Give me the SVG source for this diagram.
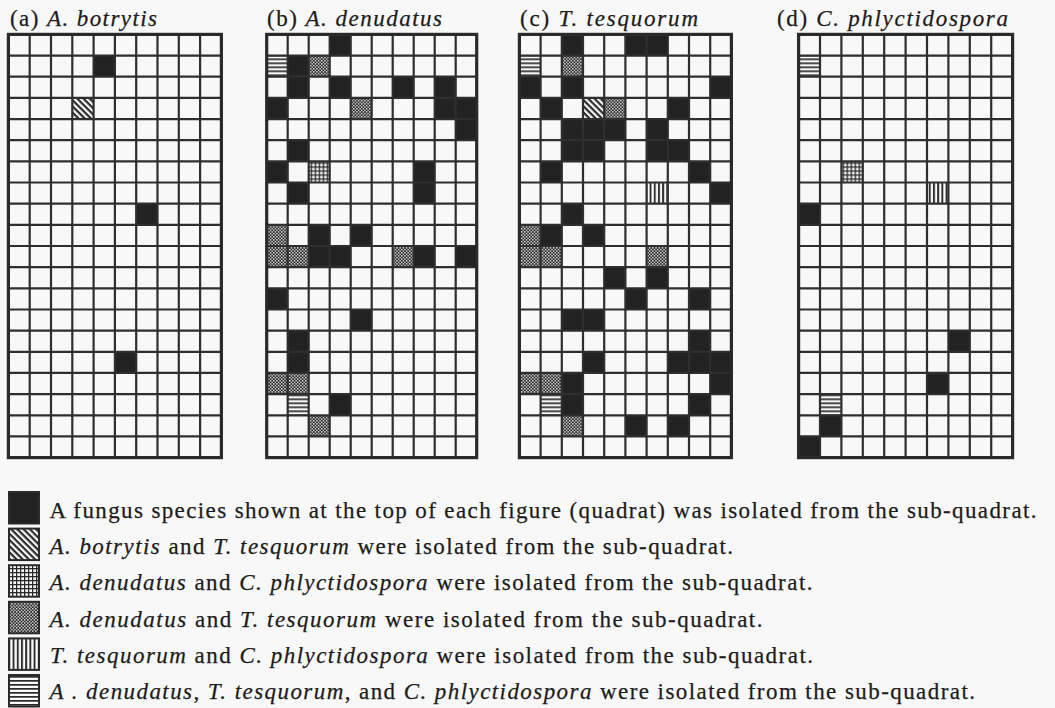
<svg xmlns="http://www.w3.org/2000/svg" width="1055" height="708" viewBox="0 0 1055 708">
<style>
.bg{fill:#f8f8f8}
.blk{fill:#222}
.gl{fill:none;stroke:#2e2e2e;stroke-width:2.2}
.bd{fill:none;stroke:#2a2a2a;stroke-width:3.2}
.lb{fill:none;stroke:#2a2a2a;stroke-width:2}
.t{font-family:"Liberation Serif","Times New Roman",serif;font-size:23px;fill:#1c1c1c;stroke:#1c1c1c;stroke-width:0.25}
.i{font-style:italic}
</style>
<defs>
<pattern id="pD" width="4.4" height="4.4" patternUnits="userSpaceOnUse" patternTransform="rotate(45)"><rect width="4.4" height="4.4" fill="#fafafa"/><rect width="4.4" height="2.2" fill="#2a2a2a"/></pattern>
<pattern id="pG" width="4" height="4" patternUnits="userSpaceOnUse"><rect width="4" height="4" fill="#fafafa"/><rect width="4" height="1.3" fill="#2a2a2a"/><rect width="1.3" height="4" fill="#2a2a2a"/></pattern>
<pattern id="pC" width="3.2" height="3.2" patternUnits="userSpaceOnUse"><rect width="3.2" height="3.2" fill="#2a2a2a"/><rect width="1.35" height="1.35" fill="#f4f4f4"/><rect x="1.6" y="1.6" width="1.35" height="1.35" fill="#f4f4f4"/></pattern>
<pattern id="pV" width="4.2" height="4.2" patternUnits="userSpaceOnUse"><rect width="4.2" height="4.2" fill="#fafafa"/><rect width="1.9" height="4.2" fill="#2a2a2a"/></pattern>
<pattern id="pH" width="4" height="4" patternUnits="userSpaceOnUse"><rect width="4" height="4" fill="#fafafa"/><rect width="4" height="1.7" fill="#2a2a2a"/></pattern>
</defs>
<rect class="bg" x="0" y="0" width="1055" height="708"/>

<g id="panel-a">
<text class="t" x="10" y="26" textLength="147" lengthAdjust="spacing">(a) <tspan class="i">A. botrytis</tspan></text>
<g transform="translate(8.4,34.4)">
<rect class="blk" x="85.2" y="21.16" width="21.3" height="21.16"/>
<rect fill="url(#pD)" x="63.9" y="63.48" width="21.3" height="21.16"/>
<rect class="blk" x="127.8" y="169.28" width="21.3" height="21.16"/>
<rect class="blk" x="106.5" y="317.4" width="21.3" height="21.16"/>
<path class="gl" d="M21.3 0V423.2M42.6 0V423.2M63.9 0V423.2M85.2 0V423.2M106.5 0V423.2M127.8 0V423.2M149.1 0V423.2M170.4 0V423.2M191.7 0V423.2M0 21.16H213M0 42.32H213M0 63.48H213M0 84.64H213M0 105.8H213M0 126.96H213M0 148.12H213M0 169.28H213M0 190.44H213M0 211.6H213M0 232.76H213M0 253.92H213M0 275.08H213M0 296.24H213M0 317.4H213M0 338.56H213M0 359.72H213M0 380.88H213M0 402.04H213"/>
<rect class="bd" x="0" y="0" width="213" height="423.2"/>
</g>
</g>

<g id="panel-b">
<text class="t" x="267" y="26" textLength="175" lengthAdjust="spacing">(b) <tspan class="i">A. denudatus</tspan></text>
<g transform="translate(266.7,34.4)">
<rect class="blk" x="63" y="0" width="21" height="21.16"/>
<rect fill="url(#pH)" x="0" y="21.16" width="21" height="21.16"/>
<rect class="blk" x="21" y="21.16" width="21" height="21.16"/>
<rect fill="url(#pC)" x="42" y="21.16" width="21" height="21.16"/>
<rect class="blk" x="21" y="42.32" width="21" height="21.16"/>
<rect class="blk" x="63" y="42.32" width="21" height="21.16"/>
<rect class="blk" x="126" y="42.32" width="21" height="21.16"/>
<rect class="blk" x="168" y="42.32" width="21" height="21.16"/>
<rect class="blk" x="0" y="63.48" width="21" height="21.16"/>
<rect fill="url(#pC)" x="84" y="63.48" width="21" height="21.16"/>
<rect class="blk" x="168" y="63.48" width="42" height="21.16"/>
<rect class="blk" x="189" y="84.64" width="21" height="21.16"/>
<rect class="blk" x="21" y="105.8" width="21" height="21.16"/>
<rect class="blk" x="0" y="126.96" width="21" height="21.16"/>
<rect fill="url(#pG)" x="42" y="126.96" width="21" height="21.16"/>
<rect class="blk" x="147" y="126.96" width="21" height="42.32"/>
<rect class="blk" x="21" y="148.12" width="21" height="21.16"/>
<rect fill="url(#pC)" x="0" y="190.44" width="21" height="42.32"/>
<rect class="blk" x="42" y="190.44" width="21" height="42.32"/>
<rect class="blk" x="84" y="190.44" width="21" height="21.16"/>
<rect fill="url(#pC)" x="21" y="211.6" width="21" height="21.16"/>
<rect class="blk" x="63" y="211.6" width="21" height="21.16"/>
<rect fill="url(#pC)" x="126" y="211.6" width="21" height="21.16"/>
<rect class="blk" x="147" y="211.6" width="21" height="21.16"/>
<rect class="blk" x="189" y="211.6" width="21" height="21.16"/>
<rect class="blk" x="0" y="253.92" width="21" height="21.16"/>
<rect class="blk" x="84" y="275.08" width="21" height="21.16"/>
<rect class="blk" x="21" y="296.24" width="21" height="42.32"/>
<rect fill="url(#pC)" x="0" y="338.56" width="42" height="21.16"/>
<rect fill="url(#pH)" x="21" y="359.72" width="21" height="21.16"/>
<rect class="blk" x="63" y="359.72" width="21" height="21.16"/>
<rect fill="url(#pC)" x="42" y="380.88" width="21" height="21.16"/>
<path class="gl" d="M21 0V423.2M42 0V423.2M63 0V423.2M84 0V423.2M105 0V423.2M126 0V423.2M147 0V423.2M168 0V423.2M189 0V423.2M0 21.16H210M0 42.32H210M0 63.48H210M0 84.64H210M0 105.8H210M0 126.96H210M0 148.12H210M0 169.28H210M0 190.44H210M0 211.6H210M0 232.76H210M0 253.92H210M0 275.08H210M0 296.24H210M0 317.4H210M0 338.56H210M0 359.72H210M0 380.88H210M0 402.04H210"/>
<rect class="bd" x="0" y="0" width="210" height="423.2"/>
</g>
</g>

<g id="panel-c">
<text class="t" x="520" y="26" textLength="178" lengthAdjust="spacing">(c) <tspan class="i">T. tesquorum</tspan></text>
<g transform="translate(519.4,34.4)">
<rect class="blk" x="42.4" y="0" width="21.2" height="21.16"/>
<rect class="blk" x="106" y="0" width="42.4" height="21.16"/>
<rect fill="url(#pH)" x="0" y="21.16" width="21.2" height="21.16"/>
<rect fill="url(#pC)" x="42.4" y="21.16" width="21.2" height="21.16"/>
<rect class="blk" x="0" y="42.32" width="21.2" height="21.16"/>
<rect class="blk" x="42.4" y="42.32" width="21.2" height="21.16"/>
<rect class="blk" x="190.8" y="42.32" width="21.2" height="21.16"/>
<rect class="blk" x="21.2" y="63.48" width="21.2" height="21.16"/>
<rect fill="url(#pD)" x="63.6" y="63.48" width="21.2" height="21.16"/>
<rect fill="url(#pC)" x="84.8" y="63.48" width="21.2" height="21.16"/>
<rect class="blk" x="148.4" y="63.48" width="21.2" height="21.16"/>
<rect class="blk" x="42.4" y="84.64" width="63.6" height="21.16"/>
<rect class="blk" x="127.2" y="84.64" width="21.2" height="21.16"/>
<rect class="blk" x="42.4" y="105.8" width="42.4" height="21.16"/>
<rect class="blk" x="127.2" y="105.8" width="42.4" height="21.16"/>
<rect class="blk" x="21.2" y="126.96" width="21.2" height="21.16"/>
<rect class="blk" x="169.6" y="126.96" width="21.2" height="21.16"/>
<rect fill="url(#pV)" x="127.2" y="148.12" width="21.2" height="21.16"/>
<rect class="blk" x="190.8" y="148.12" width="21.2" height="21.16"/>
<rect class="blk" x="42.4" y="169.28" width="21.2" height="21.16"/>
<rect fill="url(#pC)" x="0" y="190.44" width="21.2" height="42.32"/>
<rect class="blk" x="21.2" y="190.44" width="21.2" height="21.16"/>
<rect class="blk" x="63.6" y="190.44" width="21.2" height="21.16"/>
<rect fill="url(#pC)" x="21.2" y="211.6" width="21.2" height="21.16"/>
<rect fill="url(#pC)" x="127.2" y="211.6" width="21.2" height="21.16"/>
<rect class="blk" x="84.8" y="232.76" width="21.2" height="21.16"/>
<rect class="blk" x="127.2" y="232.76" width="21.2" height="21.16"/>
<rect class="blk" x="106" y="253.92" width="21.2" height="21.16"/>
<rect class="blk" x="169.6" y="253.92" width="21.2" height="21.16"/>
<rect class="blk" x="42.4" y="275.08" width="42.4" height="21.16"/>
<rect class="blk" x="169.6" y="296.24" width="21.2" height="21.16"/>
<rect class="blk" x="63.6" y="317.4" width="21.2" height="21.16"/>
<rect class="blk" x="148.4" y="317.4" width="63.6" height="21.16"/>
<rect fill="url(#pC)" x="0" y="338.56" width="42.4" height="21.16"/>
<rect class="blk" x="42.4" y="338.56" width="21.2" height="42.32"/>
<rect class="blk" x="190.8" y="338.56" width="21.2" height="21.16"/>
<rect fill="url(#pH)" x="21.2" y="359.72" width="21.2" height="21.16"/>
<rect class="blk" x="169.6" y="359.72" width="21.2" height="21.16"/>
<rect fill="url(#pC)" x="42.4" y="380.88" width="21.2" height="21.16"/>
<rect class="blk" x="106" y="380.88" width="21.2" height="21.16"/>
<rect class="blk" x="148.4" y="380.88" width="21.2" height="21.16"/>
<path class="gl" d="M21.2 0V423.2M42.4 0V423.2M63.6 0V423.2M84.8 0V423.2M106 0V423.2M127.2 0V423.2M148.4 0V423.2M169.6 0V423.2M190.8 0V423.2M0 21.16H212M0 42.32H212M0 63.48H212M0 84.64H212M0 105.8H212M0 126.96H212M0 148.12H212M0 169.28H212M0 190.44H212M0 211.6H212M0 232.76H212M0 253.92H212M0 275.08H212M0 296.24H212M0 317.4H212M0 338.56H212M0 359.72H212M0 380.88H212M0 402.04H212"/>
<rect class="bd" x="0" y="0" width="212" height="423.2"/>
</g>
</g>

<g id="panel-d">
<text class="t" x="777" y="26" textLength="231" lengthAdjust="spacing">(d) <tspan class="i">C. phlyctidospora</tspan></text>
<g transform="translate(798.6,34.4)">
<rect fill="url(#pH)" x="0" y="21.16" width="21.4" height="21.16"/>
<rect fill="url(#pG)" x="42.8" y="126.96" width="21.4" height="21.16"/>
<rect fill="url(#pV)" x="128.4" y="148.12" width="21.4" height="21.16"/>
<rect class="blk" x="0" y="169.28" width="21.4" height="21.16"/>
<rect class="blk" x="149.8" y="296.24" width="21.4" height="21.16"/>
<rect class="blk" x="128.4" y="338.56" width="21.4" height="21.16"/>
<rect fill="url(#pH)" x="21.4" y="359.72" width="21.4" height="21.16"/>
<rect class="blk" x="21.4" y="380.88" width="21.4" height="21.16"/>
<rect class="blk" x="0" y="402.04" width="21.4" height="21.16"/>
<path class="gl" d="M21.4 0V423.2M42.8 0V423.2M64.2 0V423.2M85.6 0V423.2M107 0V423.2M128.4 0V423.2M149.8 0V423.2M171.2 0V423.2M192.6 0V423.2M0 21.16H214M0 42.32H214M0 63.48H214M0 84.64H214M0 105.8H214M0 126.96H214M0 148.12H214M0 169.28H214M0 190.44H214M0 211.6H214M0 232.76H214M0 253.92H214M0 275.08H214M0 296.24H214M0 317.4H214M0 338.56H214M0 359.72H214M0 380.88H214M0 402.04H214"/>
<rect class="bd" x="0" y="0" width="214" height="423.2"/>
</g>
</g>

<g id="legend">
<rect class="blk" x="9" y="492" width="30" height="31.5"/>
<rect class="lb" x="9" y="492" width="30" height="31.5"/>
<rect fill="url(#pD)" x="9" y="528.6" width="30" height="31.5"/>
<rect class="lb" x="9" y="528.6" width="30" height="31.5"/>
<rect fill="url(#pG)" x="9" y="565.2" width="30" height="31.5"/>
<rect class="lb" x="9" y="565.2" width="30" height="31.5"/>
<rect fill="url(#pC)" x="9" y="601.8" width="30" height="31.5"/>
<rect class="lb" x="9" y="601.8" width="30" height="31.5"/>
<rect fill="url(#pV)" x="9" y="638.4" width="30" height="31.5"/>
<rect class="lb" x="9" y="638.4" width="30" height="31.5"/>
<rect fill="url(#pH)" x="9" y="675" width="30" height="31.5"/>
<rect class="lb" x="9" y="675" width="30" height="31.5"/>
<text class="t" x="49.5" y="517.5" textLength="987" lengthAdjust="spacing">A fungus species shown at the top of each figure (quadrat) was isolated from the sub-quadrat.</text>
<text class="t" x="49.5" y="553.8" textLength="683.5" lengthAdjust="spacing"><tspan class="i">A. botrytis</tspan> and <tspan class="i">T. tesquorum</tspan> were isolated from the sub-quadrat.</text>
<text class="t" x="49.5" y="590.2" textLength="763" lengthAdjust="spacing"><tspan class="i">A. denudatus</tspan> and <tspan class="i">C. phlyctidospora</tspan> were isolated from the sub-quadrat.</text>
<text class="t" x="49.5" y="626.5" textLength="713" lengthAdjust="spacing"><tspan class="i">A. denudatus</tspan> and <tspan class="i">T. tesquorum</tspan> were isolated from the sub-quadrat.</text>
<text class="t" x="50" y="662.9" textLength="763" lengthAdjust="spacing"><tspan class="i">T. tesquorum</tspan> and <tspan class="i">C. phlyctidospora</tspan> were isolated from the sub-quadrat.</text>
<text class="t" x="49.5" y="698.9" textLength="925.5" lengthAdjust="spacing"><tspan class="i">A . denudatus</tspan>, <tspan class="i">T. tesquorum</tspan>, and <tspan class="i">C. phlyctidospora</tspan> were isolated from the sub-quadrat.</text>
</g>
</svg>
